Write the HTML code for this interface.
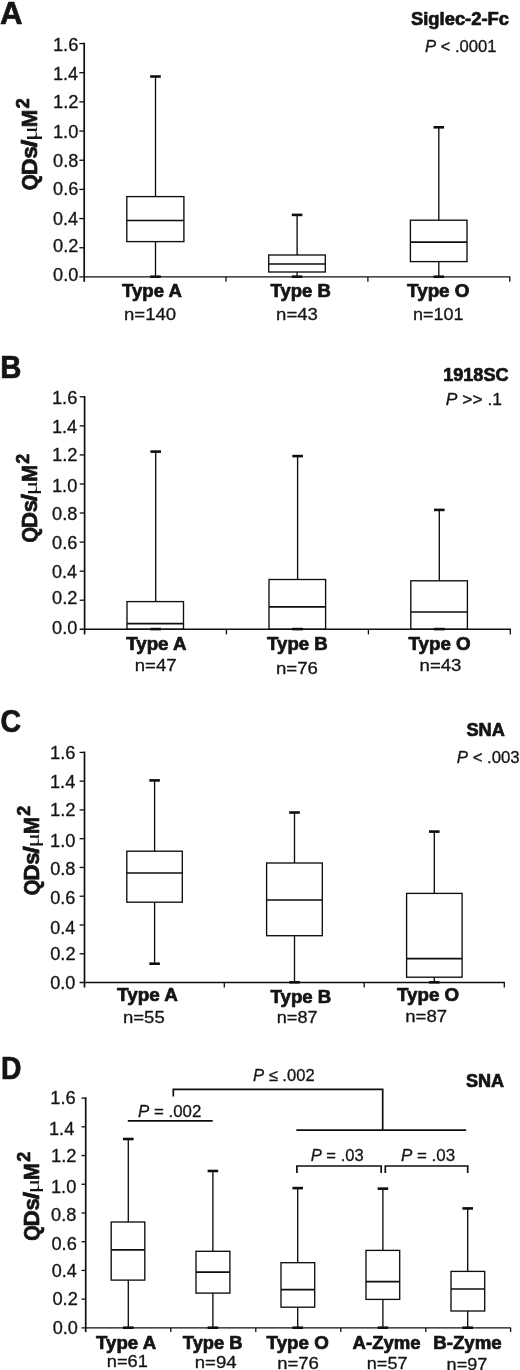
<!DOCTYPE html>
<html><head><meta charset="utf-8"><title>Figure</title>
<style>
html,body{margin:0;padding:0;background:#fff;}
body{width:520px;height:1370px;overflow:hidden;font-family:"Liberation Sans",sans-serif;}
svg{display:block;font-family:"Liberation Sans",sans-serif;will-change:transform;filter:blur(0.3px);}
text{stroke:#141414;stroke-width:0.3px;paint-order:stroke;stroke-linejoin:round}
text.b,tspan.b{stroke-width:0.7px}
</style></head><body>
<svg width="520" height="1370" viewBox="0 0 520 1370">
<rect width="520" height="1370" fill="#ffffff"/>
<text transform="translate(-0.05 23.50) scale(0.9984 1)" font-size="31.3" fill="#141414" xml:space="preserve"><tspan class="b" font-weight="bold">A</tspan></text>
<line x1="84.20" y1="42.70" x2="84.20" y2="281.80" stroke="#0e0e0e" stroke-width="1.7"/>
<line x1="79.30" y1="276.90" x2="510.40" y2="276.90" stroke="#0e0e0e" stroke-width="1.4"/>
<line x1="79.30" y1="43.55" x2="84.20" y2="43.55" stroke="#0e0e0e" stroke-width="1.3"/>
<line x1="79.30" y1="72.72" x2="84.20" y2="72.72" stroke="#0e0e0e" stroke-width="1.3"/>
<line x1="79.30" y1="101.89" x2="84.20" y2="101.89" stroke="#0e0e0e" stroke-width="1.3"/>
<line x1="79.30" y1="131.06" x2="84.20" y2="131.06" stroke="#0e0e0e" stroke-width="1.3"/>
<line x1="79.30" y1="160.23" x2="84.20" y2="160.23" stroke="#0e0e0e" stroke-width="1.3"/>
<line x1="79.30" y1="189.40" x2="84.20" y2="189.40" stroke="#0e0e0e" stroke-width="1.3"/>
<line x1="79.30" y1="218.57" x2="84.20" y2="218.57" stroke="#0e0e0e" stroke-width="1.3"/>
<line x1="79.30" y1="247.74" x2="84.20" y2="247.74" stroke="#0e0e0e" stroke-width="1.3"/>
<line x1="226.00" y1="276.90" x2="226.00" y2="281.80" stroke="#0e0e0e" stroke-width="1.3"/>
<line x1="367.90" y1="276.90" x2="367.90" y2="281.80" stroke="#0e0e0e" stroke-width="1.3"/>
<line x1="509.80" y1="276.90" x2="509.80" y2="281.80" stroke="#0e0e0e" stroke-width="1.3"/>
<text transform="translate(52.91 50.55) scale(1.0128 1)" font-size="18.1" fill="#141414" xml:space="preserve">1.6</text>
<text transform="translate(52.92 79.95) scale(1.0018 1)" font-size="18.1" fill="#141414" xml:space="preserve">1.4</text>
<text transform="translate(52.90 108.15) scale(1.0184 1)" font-size="18.1" fill="#141414" xml:space="preserve">1.2</text>
<text transform="translate(52.91 137.85) scale(1.0089 1)" font-size="18.1" fill="#141414" xml:space="preserve">1.0</text>
<text transform="translate(53.09 166.65) scale(1.0053 1)" font-size="18.1" fill="#141414" xml:space="preserve">0.8</text>
<text transform="translate(53.09 194.85) scale(1.0053 1)" font-size="18.1" fill="#141414" xml:space="preserve">0.6</text>
<text transform="translate(53.10 224.95) scale(0.9946 1)" font-size="18.1" fill="#141414" xml:space="preserve">0.4</text>
<text transform="translate(53.09 251.55) scale(1.0107 1)" font-size="18.1" fill="#141414" xml:space="preserve">0.2</text>
<text transform="translate(53.09 280.85) scale(1.0015 1)" font-size="18.1" fill="#141414" xml:space="preserve">0.0</text>
<g transform="translate(36.90 189.40) rotate(-90) scale(1.0000)"><text transform="translate(-0.85 0) scale(0.9333 1)" font-size="22.2" class="b" font-weight="bold" fill="#141414">Q</text><text transform="translate(14.11 0) scale(1.0511 1)" font-size="22.2" class="b" font-weight="bold" fill="#141414">D</text><text transform="translate(30.60 0) scale(1.0301 1)" font-size="22.2" class="b" font-weight="bold" fill="#141414">s</text><text transform="translate(42.15 0) scale(1.2500 1)" font-size="22.2" class="b" font-weight="bold" fill="#141414">/</text><text transform="translate(48.06 0) scale(1.4458 1)" font-size="20" font-family="Liberation Serif, serif" style="stroke:none" fill="#141414">μ</text><text transform="translate(62.22 0) scale(0.9446 1)" font-size="22.2" class="b" font-weight="bold" fill="#141414">M</text><text transform="translate(80.97 -7.90) scale(1.0069 1)" font-size="18.3" class="b" font-weight="bold" fill="#141414">2</text></g>
<line x1="155.50" y1="76.50" x2="155.50" y2="196.60" stroke="#0e0e0e" stroke-width="1.35"/>
<line x1="155.50" y1="241.60" x2="155.50" y2="276.70" stroke="#0e0e0e" stroke-width="1.35"/>
<rect x="126.80" y="196.60" width="57.10" height="45.00" fill="none" stroke="#0e0e0e" stroke-width="1.35"/>
<line x1="126.80" y1="220.50" x2="183.90" y2="220.50" stroke="#0e0e0e" stroke-width="1.7"/>
<line x1="150.20" y1="76.50" x2="160.80" y2="76.50" stroke="#0e0e0e" stroke-width="2.6"/>
<line x1="150.20" y1="276.70" x2="160.80" y2="276.70" stroke="#0e0e0e" stroke-width="2.6"/>
<line x1="297.10" y1="214.90" x2="297.10" y2="255.00" stroke="#0e0e0e" stroke-width="1.35"/>
<line x1="297.10" y1="272.00" x2="297.10" y2="276.70" stroke="#0e0e0e" stroke-width="1.35"/>
<rect x="268.70" y="255.00" width="56.60" height="17.00" fill="none" stroke="#0e0e0e" stroke-width="1.35"/>
<line x1="268.70" y1="264.00" x2="325.30" y2="264.00" stroke="#0e0e0e" stroke-width="1.7"/>
<line x1="291.80" y1="214.90" x2="302.40" y2="214.90" stroke="#0e0e0e" stroke-width="2.6"/>
<line x1="291.80" y1="276.70" x2="302.40" y2="276.70" stroke="#0e0e0e" stroke-width="2.6"/>
<line x1="438.80" y1="127.30" x2="438.80" y2="220.20" stroke="#0e0e0e" stroke-width="1.35"/>
<line x1="438.80" y1="261.60" x2="438.80" y2="276.70" stroke="#0e0e0e" stroke-width="1.35"/>
<rect x="410.40" y="220.20" width="56.60" height="41.40" fill="none" stroke="#0e0e0e" stroke-width="1.35"/>
<line x1="410.40" y1="242.20" x2="467.00" y2="242.20" stroke="#0e0e0e" stroke-width="1.7"/>
<line x1="433.50" y1="127.30" x2="444.10" y2="127.30" stroke="#0e0e0e" stroke-width="2.6"/>
<line x1="433.50" y1="276.70" x2="444.10" y2="276.70" stroke="#0e0e0e" stroke-width="2.6"/>
<text transform="translate(122.10 297.20) scale(1.0540 1)" font-size="17.6" fill="#141414" xml:space="preserve"><tspan class="b" font-weight="bold">Type A</tspan></text>
<text transform="translate(123.97 319.70) scale(1.0985 1)" font-size="16.9" fill="#141414" xml:space="preserve">n=140</text>
<text transform="translate(270.60 297.10) scale(1.0481 1)" font-size="17.6" fill="#141414" xml:space="preserve"><tspan class="b" font-weight="bold">Type B</tspan></text>
<text transform="translate(276.07 319.90) scale(1.0989 1)" font-size="16.9" fill="#141414" xml:space="preserve">n=43</text>
<text transform="translate(407.09 297.30) scale(1.0691 1)" font-size="17.6" fill="#141414" xml:space="preserve"><tspan class="b" font-weight="bold">Type O</tspan></text>
<text transform="translate(413.01 319.90) scale(1.0653 1)" font-size="16.9" fill="#141414" xml:space="preserve">n=101</text>
<text transform="translate(410.99 25.00) scale(1.0502 1)" font-size="17.5" fill="#141414" xml:space="preserve"><tspan class="b" font-weight="bold">Siglec-2-Fc</tspan></text>
<text transform="translate(424.90 51.60) scale(1.0084 1)" font-size="16.5" fill="#141414" xml:space="preserve"><tspan font-style="italic">P</tspan> &lt; .0001</text>
<text transform="translate(0.37 378.00) scale(0.9360 1)" font-size="31.3" fill="#141414" xml:space="preserve"><tspan class="b" font-weight="bold">B</tspan></text>
<line x1="84.60" y1="395.95" x2="84.60" y2="634.40" stroke="#0e0e0e" stroke-width="1.7"/>
<line x1="79.70" y1="629.30" x2="510.90" y2="629.30" stroke="#0e0e0e" stroke-width="1.4"/>
<line x1="79.70" y1="396.80" x2="84.60" y2="396.80" stroke="#0e0e0e" stroke-width="1.3"/>
<line x1="79.70" y1="425.86" x2="84.60" y2="425.86" stroke="#0e0e0e" stroke-width="1.3"/>
<line x1="79.70" y1="454.92" x2="84.60" y2="454.92" stroke="#0e0e0e" stroke-width="1.3"/>
<line x1="79.70" y1="483.98" x2="84.60" y2="483.98" stroke="#0e0e0e" stroke-width="1.3"/>
<line x1="79.70" y1="513.04" x2="84.60" y2="513.04" stroke="#0e0e0e" stroke-width="1.3"/>
<line x1="79.70" y1="542.10" x2="84.60" y2="542.10" stroke="#0e0e0e" stroke-width="1.3"/>
<line x1="79.70" y1="571.16" x2="84.60" y2="571.16" stroke="#0e0e0e" stroke-width="1.3"/>
<line x1="79.70" y1="600.22" x2="84.60" y2="600.22" stroke="#0e0e0e" stroke-width="1.3"/>
<line x1="226.45" y1="629.30" x2="226.45" y2="634.40" stroke="#0e0e0e" stroke-width="1.3"/>
<line x1="368.40" y1="629.30" x2="368.40" y2="634.40" stroke="#0e0e0e" stroke-width="1.3"/>
<line x1="510.30" y1="629.30" x2="510.30" y2="634.40" stroke="#0e0e0e" stroke-width="1.3"/>
<text transform="translate(51.91 403.60) scale(1.0128 1)" font-size="18.1" fill="#141414" xml:space="preserve">1.6</text>
<text transform="translate(51.92 433.05) scale(1.0018 1)" font-size="18.1" fill="#141414" xml:space="preserve">1.4</text>
<text transform="translate(51.90 461.35) scale(1.0184 1)" font-size="18.1" fill="#141414" xml:space="preserve">1.2</text>
<text transform="translate(51.91 491.65) scale(1.0089 1)" font-size="18.1" fill="#141414" xml:space="preserve">1.0</text>
<text transform="translate(52.09 520.05) scale(1.0053 1)" font-size="18.1" fill="#141414" xml:space="preserve">0.8</text>
<text transform="translate(52.09 548.95) scale(1.0053 1)" font-size="18.1" fill="#141414" xml:space="preserve">0.6</text>
<text transform="translate(52.10 578.25) scale(0.9946 1)" font-size="18.1" fill="#141414" xml:space="preserve">0.4</text>
<text transform="translate(52.09 604.45) scale(1.0107 1)" font-size="18.1" fill="#141414" xml:space="preserve">0.2</text>
<text transform="translate(52.09 634.35) scale(1.0015 1)" font-size="18.1" fill="#141414" xml:space="preserve">0.0</text>
<g transform="translate(37.10 541.80) rotate(-90) scale(0.9650)"><text transform="translate(-0.85 0) scale(0.9333 1)" font-size="22.2" class="b" font-weight="bold" fill="#141414">Q</text><text transform="translate(14.11 0) scale(1.0511 1)" font-size="22.2" class="b" font-weight="bold" fill="#141414">D</text><text transform="translate(30.60 0) scale(1.0301 1)" font-size="22.2" class="b" font-weight="bold" fill="#141414">s</text><text transform="translate(42.15 0) scale(1.2500 1)" font-size="22.2" class="b" font-weight="bold" fill="#141414">/</text><text transform="translate(48.06 0) scale(1.4458 1)" font-size="20" font-family="Liberation Serif, serif" style="stroke:none" fill="#141414">μ</text><text transform="translate(62.22 0) scale(0.9446 1)" font-size="22.2" class="b" font-weight="bold" fill="#141414">M</text><text transform="translate(80.97 -8.80) scale(1.0069 1)" font-size="18.3" class="b" font-weight="bold" fill="#141414">2</text></g>
<line x1="155.70" y1="451.60" x2="155.70" y2="601.60" stroke="#0e0e0e" stroke-width="1.35"/>
<rect x="127.00" y="601.60" width="56.50" height="27.70" fill="none" stroke="#0e0e0e" stroke-width="1.35"/>
<line x1="127.00" y1="623.70" x2="183.50" y2="623.70" stroke="#0e0e0e" stroke-width="1.7"/>
<line x1="150.40" y1="451.60" x2="161.00" y2="451.60" stroke="#0e0e0e" stroke-width="2.6"/>
<line x1="150.40" y1="629.10" x2="161.00" y2="629.10" stroke="#0e0e0e" stroke-width="2.6"/>
<line x1="297.60" y1="456.10" x2="297.60" y2="579.50" stroke="#0e0e0e" stroke-width="1.35"/>
<rect x="269.00" y="579.50" width="56.60" height="49.80" fill="none" stroke="#0e0e0e" stroke-width="1.35"/>
<line x1="269.00" y1="606.80" x2="325.60" y2="606.80" stroke="#0e0e0e" stroke-width="1.7"/>
<line x1="292.30" y1="456.10" x2="302.90" y2="456.10" stroke="#0e0e0e" stroke-width="2.6"/>
<line x1="292.30" y1="629.10" x2="302.90" y2="629.10" stroke="#0e0e0e" stroke-width="2.6"/>
<line x1="439.30" y1="509.90" x2="439.30" y2="580.80" stroke="#0e0e0e" stroke-width="1.35"/>
<rect x="410.80" y="580.80" width="56.60" height="48.50" fill="none" stroke="#0e0e0e" stroke-width="1.35"/>
<line x1="410.80" y1="612.00" x2="467.40" y2="612.00" stroke="#0e0e0e" stroke-width="1.7"/>
<line x1="434.00" y1="509.90" x2="444.60" y2="509.90" stroke="#0e0e0e" stroke-width="2.6"/>
<line x1="434.00" y1="629.10" x2="444.60" y2="629.10" stroke="#0e0e0e" stroke-width="2.6"/>
<text transform="translate(126.19 650.00) scale(1.0647 1)" font-size="17.6" fill="#141414" xml:space="preserve"><tspan class="b" font-weight="bold">Type A</tspan></text>
<text transform="translate(134.77 671.30) scale(1.0998 1)" font-size="16.9" fill="#141414" xml:space="preserve">n=47</text>
<text transform="translate(267.10 650.00) scale(1.0587 1)" font-size="17.6" fill="#141414" xml:space="preserve"><tspan class="b" font-weight="bold">Type B</tspan></text>
<text transform="translate(275.97 673.90) scale(1.1017 1)" font-size="16.9" fill="#141414" xml:space="preserve">n=76</text>
<text transform="translate(408.49 650.00) scale(1.0657 1)" font-size="17.6" fill="#141414" xml:space="preserve"><tspan class="b" font-weight="bold">Type O</tspan></text>
<text transform="translate(419.57 671.30) scale(1.0989 1)" font-size="16.9" fill="#141414" xml:space="preserve">n=43</text>
<text transform="translate(443.18 380.80) scale(1.0342 1)" font-size="17.5" fill="#141414" xml:space="preserve"><tspan class="b" font-weight="bold">1918SC</tspan></text>
<text transform="translate(445.68 404.70) scale(1.0595 1)" font-size="16.5" fill="#141414" xml:space="preserve"><tspan font-style="italic">P</tspan> &gt;&gt; .1</text>
<text transform="translate(0.38 732.20) scale(0.9111 1)" font-size="31.3" fill="#141414" xml:space="preserve"><tspan class="b" font-weight="bold">C</tspan></text>
<line x1="84.50" y1="751.55" x2="84.50" y2="987.50" stroke="#0e0e0e" stroke-width="1.7"/>
<line x1="79.60" y1="982.50" x2="504.90" y2="982.50" stroke="#0e0e0e" stroke-width="1.4"/>
<line x1="79.60" y1="752.40" x2="84.50" y2="752.40" stroke="#0e0e0e" stroke-width="1.3"/>
<line x1="79.60" y1="781.16" x2="84.50" y2="781.16" stroke="#0e0e0e" stroke-width="1.3"/>
<line x1="79.60" y1="809.93" x2="84.50" y2="809.93" stroke="#0e0e0e" stroke-width="1.3"/>
<line x1="79.60" y1="838.69" x2="84.50" y2="838.69" stroke="#0e0e0e" stroke-width="1.3"/>
<line x1="79.60" y1="867.46" x2="84.50" y2="867.46" stroke="#0e0e0e" stroke-width="1.3"/>
<line x1="79.60" y1="896.22" x2="84.50" y2="896.22" stroke="#0e0e0e" stroke-width="1.3"/>
<line x1="79.60" y1="924.99" x2="84.50" y2="924.99" stroke="#0e0e0e" stroke-width="1.3"/>
<line x1="79.60" y1="953.75" x2="84.50" y2="953.75" stroke="#0e0e0e" stroke-width="1.3"/>
<line x1="224.30" y1="982.50" x2="224.30" y2="987.50" stroke="#0e0e0e" stroke-width="1.3"/>
<line x1="364.20" y1="982.50" x2="364.20" y2="987.50" stroke="#0e0e0e" stroke-width="1.3"/>
<line x1="504.30" y1="982.50" x2="504.30" y2="987.50" stroke="#0e0e0e" stroke-width="1.3"/>
<text transform="translate(50.01 758.85) scale(1.0128 1)" font-size="18.1" fill="#141414" xml:space="preserve">1.6</text>
<text transform="translate(50.02 788.35) scale(1.0018 1)" font-size="18.1" fill="#141414" xml:space="preserve">1.4</text>
<text transform="translate(50.00 816.25) scale(1.0184 1)" font-size="18.1" fill="#141414" xml:space="preserve">1.2</text>
<text transform="translate(50.01 846.55) scale(1.0089 1)" font-size="18.1" fill="#141414" xml:space="preserve">1.0</text>
<text transform="translate(50.19 874.85) scale(1.0053 1)" font-size="18.1" fill="#141414" xml:space="preserve">0.8</text>
<text transform="translate(50.19 903.65) scale(1.0053 1)" font-size="18.1" fill="#141414" xml:space="preserve">0.6</text>
<text transform="translate(50.20 933.55) scale(0.9946 1)" font-size="18.1" fill="#141414" xml:space="preserve">0.4</text>
<text transform="translate(50.19 959.75) scale(1.0107 1)" font-size="18.1" fill="#141414" xml:space="preserve">0.2</text>
<text transform="translate(50.19 989.25) scale(1.0015 1)" font-size="18.1" fill="#141414" xml:space="preserve">0.0</text>
<g transform="translate(39.20 894.40) rotate(-90) scale(0.9700)"><text transform="translate(-0.85 0) scale(0.9333 1)" font-size="22.2" class="b" font-weight="bold" fill="#141414">Q</text><text transform="translate(14.11 0) scale(1.0511 1)" font-size="22.2" class="b" font-weight="bold" fill="#141414">D</text><text transform="translate(30.60 0) scale(1.0301 1)" font-size="22.2" class="b" font-weight="bold" fill="#141414">s</text><text transform="translate(42.15 0) scale(1.2500 1)" font-size="22.2" class="b" font-weight="bold" fill="#141414">/</text><text transform="translate(48.06 0) scale(1.4458 1)" font-size="20" font-family="Liberation Serif, serif" style="stroke:none" fill="#141414">μ</text><text transform="translate(62.22 0) scale(0.9446 1)" font-size="22.2" class="b" font-weight="bold" fill="#141414">M</text><text transform="translate(80.97 -9.60) scale(1.0069 1)" font-size="18.3" class="b" font-weight="bold" fill="#141414">2</text></g>
<line x1="154.60" y1="780.40" x2="154.60" y2="851.20" stroke="#0e0e0e" stroke-width="1.35"/>
<line x1="154.60" y1="902.20" x2="154.60" y2="963.70" stroke="#0e0e0e" stroke-width="1.35"/>
<rect x="126.80" y="851.20" width="55.50" height="51.00" fill="none" stroke="#0e0e0e" stroke-width="1.35"/>
<line x1="126.80" y1="873.00" x2="182.30" y2="873.00" stroke="#0e0e0e" stroke-width="1.7"/>
<line x1="149.30" y1="780.40" x2="159.90" y2="780.40" stroke="#0e0e0e" stroke-width="2.6"/>
<line x1="149.30" y1="963.70" x2="159.90" y2="963.70" stroke="#0e0e0e" stroke-width="2.6"/>
<line x1="294.50" y1="812.50" x2="294.50" y2="863.00" stroke="#0e0e0e" stroke-width="1.35"/>
<line x1="294.50" y1="935.70" x2="294.50" y2="982.30" stroke="#0e0e0e" stroke-width="1.35"/>
<rect x="266.60" y="863.00" width="55.70" height="72.70" fill="none" stroke="#0e0e0e" stroke-width="1.35"/>
<line x1="266.60" y1="900.00" x2="322.30" y2="900.00" stroke="#0e0e0e" stroke-width="1.7"/>
<line x1="289.20" y1="812.50" x2="299.80" y2="812.50" stroke="#0e0e0e" stroke-width="2.6"/>
<line x1="289.20" y1="982.30" x2="299.80" y2="982.30" stroke="#0e0e0e" stroke-width="2.6"/>
<line x1="434.30" y1="831.60" x2="434.30" y2="893.40" stroke="#0e0e0e" stroke-width="1.35"/>
<line x1="434.30" y1="977.20" x2="434.30" y2="982.30" stroke="#0e0e0e" stroke-width="1.35"/>
<rect x="406.60" y="893.40" width="55.50" height="83.80" fill="none" stroke="#0e0e0e" stroke-width="1.35"/>
<line x1="406.60" y1="958.70" x2="462.10" y2="958.70" stroke="#0e0e0e" stroke-width="1.7"/>
<line x1="429.00" y1="831.60" x2="439.60" y2="831.60" stroke="#0e0e0e" stroke-width="2.6"/>
<line x1="429.00" y1="982.30" x2="439.60" y2="982.30" stroke="#0e0e0e" stroke-width="2.6"/>
<text transform="translate(117.09 1001.20) scale(1.0736 1)" font-size="17.6" fill="#141414" xml:space="preserve"><tspan class="b" font-weight="bold">Type A</tspan></text>
<text transform="translate(122.98 1022.70) scale(1.0979 1)" font-size="16.9" fill="#141414" xml:space="preserve">n=55</text>
<text transform="translate(270.60 1002.60) scale(1.0569 1)" font-size="17.6" fill="#141414" xml:space="preserve"><tspan class="b" font-weight="bold">Type B</tspan></text>
<text transform="translate(276.81 1022.70) scale(1.0693 1)" font-size="16.9" fill="#141414" xml:space="preserve">n=87</text>
<text transform="translate(397.09 1001.20) scale(1.0622 1)" font-size="17.6" fill="#141414" xml:space="preserve"><tspan class="b" font-weight="bold">Type O</tspan></text>
<text transform="translate(405.17 1022.20) scale(1.1025 1)" font-size="16.9" fill="#141414" xml:space="preserve">n=87</text>
<text transform="translate(466.49 736.40) scale(1.0390 1)" font-size="17.5" fill="#141414" xml:space="preserve"><tspan class="b" font-weight="bold">SNA</tspan></text>
<text transform="translate(456.80 762.80) scale(1.0161 1)" font-size="16.5" fill="#141414" xml:space="preserve"><tspan font-style="italic">P</tspan> &lt; .003</text>
<text transform="translate(0.93 1078.75) scale(0.9039 1)" font-size="31.3" fill="#141414" xml:space="preserve"><tspan class="b" font-weight="bold">D</tspan></text>
<line x1="85.70" y1="1097.25" x2="85.70" y2="1332.10" stroke="#0e0e0e" stroke-width="1.7"/>
<line x1="81.50" y1="1327.90" x2="511.00" y2="1327.90" stroke="#0e0e0e" stroke-width="1.4"/>
<line x1="81.50" y1="1098.10" x2="85.70" y2="1098.10" stroke="#0e0e0e" stroke-width="1.3"/>
<line x1="81.50" y1="1126.82" x2="85.70" y2="1126.82" stroke="#0e0e0e" stroke-width="1.3"/>
<line x1="81.50" y1="1155.54" x2="85.70" y2="1155.54" stroke="#0e0e0e" stroke-width="1.3"/>
<line x1="81.50" y1="1184.26" x2="85.70" y2="1184.26" stroke="#0e0e0e" stroke-width="1.3"/>
<line x1="81.50" y1="1212.98" x2="85.70" y2="1212.98" stroke="#0e0e0e" stroke-width="1.3"/>
<line x1="81.50" y1="1241.70" x2="85.70" y2="1241.70" stroke="#0e0e0e" stroke-width="1.3"/>
<line x1="81.50" y1="1270.42" x2="85.70" y2="1270.42" stroke="#0e0e0e" stroke-width="1.3"/>
<line x1="81.50" y1="1299.14" x2="85.70" y2="1299.14" stroke="#0e0e0e" stroke-width="1.3"/>
<line x1="170.80" y1="1327.90" x2="170.80" y2="1332.10" stroke="#0e0e0e" stroke-width="1.3"/>
<line x1="255.80" y1="1327.90" x2="255.80" y2="1332.10" stroke="#0e0e0e" stroke-width="1.3"/>
<line x1="340.80" y1="1327.90" x2="340.80" y2="1332.10" stroke="#0e0e0e" stroke-width="1.3"/>
<line x1="425.80" y1="1327.90" x2="425.80" y2="1332.10" stroke="#0e0e0e" stroke-width="1.3"/>
<line x1="510.60" y1="1327.90" x2="510.60" y2="1332.10" stroke="#0e0e0e" stroke-width="1.3"/>
<text transform="translate(50.31 1103.60) scale(1.0128 1)" font-size="18.1" fill="#141414" xml:space="preserve">1.6</text>
<text transform="translate(49.02 1134.85) scale(1.0018 1)" font-size="18.1" fill="#141414" xml:space="preserve">1.4</text>
<text transform="translate(50.90 1161.75) scale(1.0184 1)" font-size="18.1" fill="#141414" xml:space="preserve">1.2</text>
<text transform="translate(50.91 1192.65) scale(1.0089 1)" font-size="18.1" fill="#141414" xml:space="preserve">1.0</text>
<text transform="translate(51.09 1221.15) scale(1.0053 1)" font-size="18.1" fill="#141414" xml:space="preserve">0.8</text>
<text transform="translate(51.49 1249.85) scale(1.0053 1)" font-size="18.1" fill="#141414" xml:space="preserve">0.6</text>
<text transform="translate(51.75 1277.35) scale(0.9946 1)" font-size="18.1" fill="#141414" xml:space="preserve">0.4</text>
<text transform="translate(52.39 1304.85) scale(1.0107 1)" font-size="18.1" fill="#141414" xml:space="preserve">0.2</text>
<text transform="translate(52.74 1333.60) scale(1.0015 1)" font-size="18.1" fill="#141414" xml:space="preserve">0.0</text>
<g transform="translate(39.30 1240.00) rotate(-90) scale(0.9650)"><text transform="translate(-0.85 0) scale(0.9333 1)" font-size="22.2" class="b" font-weight="bold" fill="#141414">Q</text><text transform="translate(14.11 0) scale(1.0511 1)" font-size="22.2" class="b" font-weight="bold" fill="#141414">D</text><text transform="translate(30.60 0) scale(1.0301 1)" font-size="22.2" class="b" font-weight="bold" fill="#141414">s</text><text transform="translate(42.15 0) scale(1.2500 1)" font-size="22.2" class="b" font-weight="bold" fill="#141414">/</text><text transform="translate(48.06 0) scale(1.4458 1)" font-size="20" font-family="Liberation Serif, serif" style="stroke:none" fill="#141414">μ</text><text transform="translate(62.22 0) scale(0.9446 1)" font-size="22.2" class="b" font-weight="bold" fill="#141414">M</text><text transform="translate(80.97 -9.60) scale(1.0069 1)" font-size="18.3" class="b" font-weight="bold" fill="#141414">2</text></g>
<line x1="128.30" y1="1139.00" x2="128.30" y2="1222.00" stroke="#0e0e0e" stroke-width="1.35"/>
<line x1="128.30" y1="1280.10" x2="128.30" y2="1327.70" stroke="#0e0e0e" stroke-width="1.35"/>
<rect x="111.20" y="1222.00" width="33.60" height="58.10" fill="none" stroke="#0e0e0e" stroke-width="1.35"/>
<line x1="111.20" y1="1249.80" x2="144.80" y2="1249.80" stroke="#0e0e0e" stroke-width="1.7"/>
<line x1="123.00" y1="1139.00" x2="133.60" y2="1139.00" stroke="#0e0e0e" stroke-width="2.6"/>
<line x1="123.00" y1="1327.70" x2="133.60" y2="1327.70" stroke="#0e0e0e" stroke-width="2.6"/>
<line x1="212.90" y1="1171.00" x2="212.90" y2="1251.30" stroke="#0e0e0e" stroke-width="1.35"/>
<line x1="212.90" y1="1293.10" x2="212.90" y2="1327.70" stroke="#0e0e0e" stroke-width="1.35"/>
<rect x="196.00" y="1251.30" width="33.90" height="41.80" fill="none" stroke="#0e0e0e" stroke-width="1.35"/>
<line x1="196.00" y1="1272.10" x2="229.90" y2="1272.10" stroke="#0e0e0e" stroke-width="1.7"/>
<line x1="207.60" y1="1171.00" x2="218.20" y2="1171.00" stroke="#0e0e0e" stroke-width="2.6"/>
<line x1="207.60" y1="1327.70" x2="218.20" y2="1327.70" stroke="#0e0e0e" stroke-width="2.6"/>
<line x1="297.70" y1="1188.10" x2="297.70" y2="1262.70" stroke="#0e0e0e" stroke-width="1.35"/>
<line x1="297.70" y1="1307.20" x2="297.70" y2="1327.70" stroke="#0e0e0e" stroke-width="1.35"/>
<rect x="281.00" y="1262.70" width="33.70" height="44.50" fill="none" stroke="#0e0e0e" stroke-width="1.35"/>
<line x1="281.00" y1="1289.70" x2="314.70" y2="1289.70" stroke="#0e0e0e" stroke-width="1.7"/>
<line x1="292.40" y1="1188.10" x2="303.00" y2="1188.10" stroke="#0e0e0e" stroke-width="2.6"/>
<line x1="292.40" y1="1327.70" x2="303.00" y2="1327.70" stroke="#0e0e0e" stroke-width="2.6"/>
<line x1="382.90" y1="1188.65" x2="382.90" y2="1250.40" stroke="#0e0e0e" stroke-width="1.35"/>
<line x1="382.90" y1="1299.40" x2="382.90" y2="1327.70" stroke="#0e0e0e" stroke-width="1.35"/>
<rect x="366.00" y="1250.40" width="33.70" height="49.00" fill="none" stroke="#0e0e0e" stroke-width="1.35"/>
<line x1="366.00" y1="1281.60" x2="399.70" y2="1281.60" stroke="#0e0e0e" stroke-width="1.7"/>
<line x1="377.60" y1="1188.65" x2="388.20" y2="1188.65" stroke="#0e0e0e" stroke-width="2.6"/>
<line x1="377.60" y1="1327.70" x2="388.20" y2="1327.70" stroke="#0e0e0e" stroke-width="2.6"/>
<line x1="467.70" y1="1208.40" x2="467.70" y2="1271.40" stroke="#0e0e0e" stroke-width="1.35"/>
<line x1="467.70" y1="1311.00" x2="467.70" y2="1327.70" stroke="#0e0e0e" stroke-width="1.35"/>
<rect x="451.00" y="1271.40" width="33.70" height="39.60" fill="none" stroke="#0e0e0e" stroke-width="1.35"/>
<line x1="451.00" y1="1289.00" x2="484.70" y2="1289.00" stroke="#0e0e0e" stroke-width="1.7"/>
<line x1="462.40" y1="1208.40" x2="473.00" y2="1208.40" stroke="#0e0e0e" stroke-width="2.6"/>
<line x1="462.40" y1="1327.70" x2="473.00" y2="1327.70" stroke="#0e0e0e" stroke-width="2.6"/>
<text transform="translate(96.09 1348.80) scale(1.0593 1)" font-size="17.6" fill="#141414" xml:space="preserve"><tspan class="b" font-weight="bold">Type A</tspan></text>
<text transform="translate(106.80 1367.10) scale(1.0794 1)" font-size="16.9" fill="#141414" xml:space="preserve">n=61</text>
<text transform="translate(182.80 1348.50) scale(1.0427 1)" font-size="17.6" fill="#141414" xml:space="preserve"><tspan class="b" font-weight="bold">Type B</tspan></text>
<text transform="translate(194.77 1368.30) scale(1.1000 1)" font-size="16.9" fill="#141414" xml:space="preserve">n=94</text>
<text transform="translate(266.59 1348.50) scale(1.0657 1)" font-size="17.6" fill="#141414" xml:space="preserve"><tspan class="b" font-weight="bold">Type O</tspan></text>
<text transform="translate(277.18 1368.60) scale(1.0962 1)" font-size="16.9" fill="#141414" xml:space="preserve">n=76</text>
<text transform="translate(352.55 1349.00) scale(1.0548 1)" font-size="17.6" fill="#141414" xml:space="preserve"><tspan class="b" font-weight="bold">A-Zyme</tspan></text>
<text transform="translate(366.81 1368.60) scale(1.0693 1)" font-size="16.9" fill="#141414" xml:space="preserve">n=57</text>
<text transform="translate(433.27 1349.00) scale(1.0609 1)" font-size="17.6" fill="#141414" xml:space="preserve"><tspan class="b" font-weight="bold">B-Zyme</tspan></text>
<text transform="translate(446.61 1369.50) scale(1.0693 1)" font-size="16.9" fill="#141414" xml:space="preserve">n=97</text>
<text transform="translate(465.99 1087.40) scale(1.0334 1)" font-size="17.5" fill="#141414" xml:space="preserve"><tspan class="b" font-weight="bold">SNA</tspan></text>
<path d="M173.3 1096.5 V1089.3 H382.7 V1130.3" fill="none" stroke="#0e0e0e" stroke-width="1.7" stroke-linejoin="miter"/>
<text transform="translate(253.00 1081.40) scale(0.9985 1)" font-size="16.6" fill="#141414" xml:space="preserve"><tspan font-style="italic">P</tspan> ≤ .002</text>
<text transform="translate(137.99 1116.50) scale(0.9929 1)" font-size="17" fill="#141414" xml:space="preserve"><tspan font-style="italic">P</tspan> = .002</text>
<line x1="127.80" y1="1120.80" x2="212.70" y2="1120.80" stroke="#0e0e0e" stroke-width="1.7"/>
<line x1="296.30" y1="1130.20" x2="466.20" y2="1130.20" stroke="#0e0e0e" stroke-width="1.7"/>
<text transform="translate(310.70 1160.80) scale(0.9754 1)" font-size="17" fill="#141414" xml:space="preserve"><tspan font-style="italic">P</tspan> = .03</text>
<text transform="translate(400.89 1160.80) scale(0.9980 1)" font-size="17" fill="#141414" xml:space="preserve"><tspan font-style="italic">P</tspan> = .03</text>
<path d="M296.9 1173 V1166 H381.2 V1173" fill="none" stroke="#0e0e0e" stroke-width="1.7" stroke-linejoin="miter"/>
<path d="M385.3 1173 V1166 H467.7 V1173" fill="none" stroke="#0e0e0e" stroke-width="1.7" stroke-linejoin="miter"/>
</svg>
</body></html>
